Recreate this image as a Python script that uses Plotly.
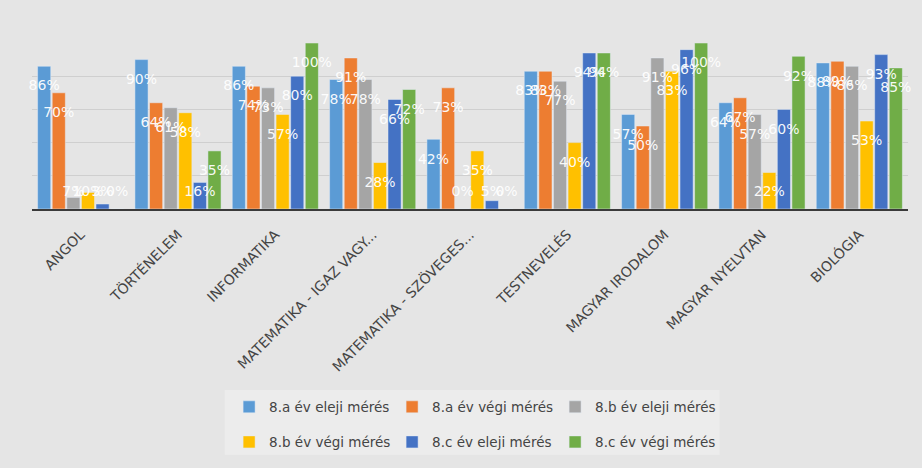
"""
Grouped bar chart: subject results of the 8th grade classes,
start of year vs end of year measurement.
"""
import plotly.graph_objects as go

subjects = [
    "ANGOL",
    "TÖRTÉNELEM",
    "INFORMATIKA",
    "MATEMATIKA - IGAZ VAGY...",
    "MATEMATIKA - SZÖVEGES...",
    "TESTNEVELÉS",
    "MAGYAR IRODALOM",
    "MAGYAR NYELVTAN",
    "BIOLÓGIA",
]

series_names = [
    "8.a év eleji mérés",
    "8.a év végi mérés",
    "8.b év eleji mérés",
    "8.b év végi mérés",
    "8.c év eleji mérés",
    "8.c év végi mérés",
]

a_start = [86, 90, 86, 78, 42, 83, 57, 64, 88]
a_end = [70, 64, 74, 91, 73, 83, 50, 67, 89]
b_start = [7, 61, 73, 78, 0, 77, 91, 57, 86]
b_end = [10, 58, 57, 28, 35, 40, 83, 22, 53]
c_start = [3, 16, 80, 66, 5, 94, 96, 60, 93]
c_end = [0, 35, 100, 72, 0, 94, 100, 92, 85]

values = [a_start, a_end, b_start, b_end, c_start, c_end]
colors = ["#5B9BD5", "#ED7D31", "#A5A5A5", "#FFC000", "#4472C4", "#70AD47"]

font = "DejaVu Sans, sans-serif"

fig = go.Figure()

for i, (name, vals, col) in enumerate(zip(series_names, values, colors)):
    fig.add_trace(go.Bar(
        x=subjects, y=vals, name=name, marker_color=col,
        legend="legend" if i < 3 else "legend2",
    ))

# value labels sit a bit below the top of each bar, never lower than the floor
for i, vals in enumerate(values):
    fig.add_trace(go.Scatter(
        x=subjects, y=[max(v - 12.5, 10) for v in vals],
        mode="text", text=[f"{v}%" for v in vals],
        textfont=dict(color="rgba(255,255,255,0.95)", size=14, family=font),
        showlegend=False, hoverinfo="skip", cliponaxis=False,
    ))

legend_style = dict(
    orientation="h", x=0.225, xanchor="left", yanchor="middle",
    entrywidth=118, bgcolor="rgba(0,0,0,0)",
    font=dict(size=13.5, color="#444444"), itemwidth=30, tracegroupgap=0,
)

fig.update_layout(
    width=922, height=468,
    margin=dict(l=32, r=14, t=43, b=258),
    paper_bgcolor="#e5e5e5", plot_bgcolor="rgba(0,0,0,0)",
    barmode="group", bargap=0.1, bargroupgap=0.1,
    scattermode="group", scattergap=0.1,
    font=dict(family=font, color="#444444", size=13),
    legend=dict(y=-1.18, **legend_style),
    legend2=dict(y=-1.39, **legend_style),
    # light box behind both legend rows
    shapes=[dict(
        type="rect", xref="paper", yref="paper", layer="below",
        x0=0.22, x1=0.785, y0=-1.48, y1=-1.09,
        fillcolor="#ececec", line_width=0,
    )],
)
fig.update_xaxes(
    tickangle=-45, showline=True, linecolor="#3a3a3a", linewidth=2,
    ticks="", tickfont=dict(size=14, color="#444444"),
    ticklabelstandoff=10, automargin=False,
)
fig.update_yaxes(
    range=[0, 100], dtick=20, showticklabels=False,
    gridcolor="#cfcfcf", gridwidth=1, zeroline=False, automargin=False,
)

fig.write_html(
    "out.html",
    config={"displayModeBar": False},
    post_script="document.body.style.margin='0';",
)
